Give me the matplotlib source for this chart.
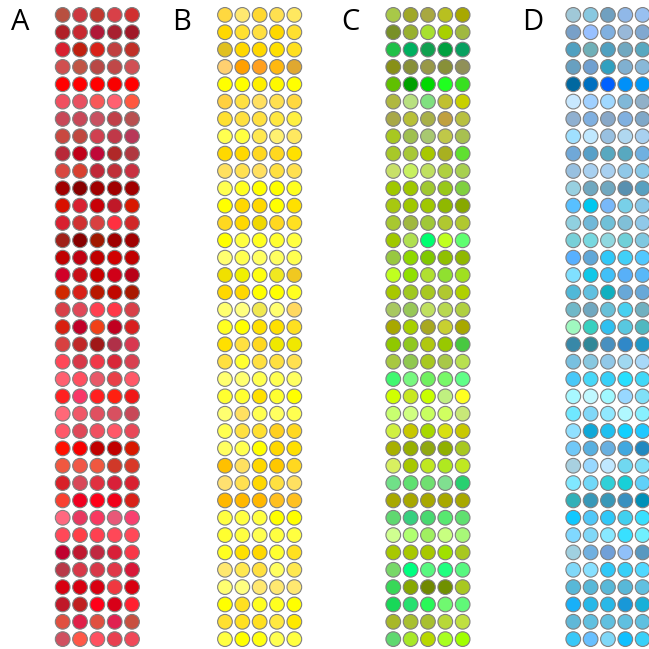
import matplotlib
matplotlib.use('Agg')
import matplotlib.pyplot as plt

# colour of every dot, one row per list entry (5 columns each)
panel_a = [
    "#b85040 #cc3840 #c03830 #d84048 #d03030", "#b02028 #c82830 #b01838 #a82030 #a01828",
    "#d82030 #c02010 #d82018 #c04040 #c03028", "#d05050 #c05545 #b84845 #c04848 #d05055",
    "#ff0000 #ff0000 #ff0000 #f80000 #ff0000", "#f05060 #e85060 #f85858 #ff6070 #ff5840",
    "#c84858 #c84858 #c85060 #c04048 #b85050", "#c84840 #c04840 #d04050 #c03848 #b83858",
    "#b82838 #c00018 #c00838 #b02828 #b03840", "#d84840 #d84030 #c02838 #c03038 #c83040",
    "#a00000 #880000 #a00000 #a00000 #a00000", "#d81000 #d82030 #c80008 #c01828 #d81800",
    "#d82030 #d03030 #d84040 #ff3040 #d02828", "#a02018 #880000 #a01800 #a00000 #a00000",
    "#c00000 #c00010 #c00000 #d00000 #c00000", "#d00028 #c81018 #c80000 #d00018 #b80018",
    "#d02800 #d82018 #b81800 #c00800 #a81800", "#d84048 #e04858 #ff4050 #ff3848 #d84048",
    "#d82010 #c00028 #f04018 #c00020 #d82020", "#d84040 #c02828 #a01818 #b03048 #d83850",
    "#ff4858 #d83848 #f03848 #d82838 #d84050", "#ff6070 #ff5060 #e85868 #e84048 #ff5868",
    "#ff2020 #f83868 #ff2020 #ff2010 #f01818", "#ff6878 #f05868 #e05060 #d85060 #c84858",
    "#ff5868 #e04858 #f05060 #ff5868 #e84858", "#ff1000 #f80000 #c00000 #c00000 #d81800",
    "#f05840 #f05848 #f05840 #d03828 #d83828", "#d82028 #d84858 #e03040 #d82038 #d82030",
    "#f84030 #f00020 #ff0018 #f00018 #d82018", "#ff6880 #e83860 #f83860 #e85878 #f84070",
    "#ff4858 #ff4048 #ff4050 #ff4858 #ff4858", "#c00030 #c01830 #c02840 #d82038 #f83848",
    "#b83848 #d83848 #d83848 #e03848 #d81838", "#d80010 #d80010 #d80010 #f03840 #d80010",
    "#c01828 #c02020 #ff0018 #d80018 #ff2030", "#e05040 #e02048 #e05040 #e02050 #c85040",
    "#d05060 #ff5848 #ff5060 #e84050 #f04858",
]
panel_b = [
    "#ffd840 #ffe870 #ffd830 #ffe050 #ffe860", "#ffd800 #ffe030 #ffe040 #ffd800 #ffe030",
    "#e0c020 #ffd800 #ffd800 #ffe000 #ffe020", "#ffd070 #ffa000 #ffa020 #ffb810 #e0a830",
    "#ffff00 #ffff00 #fff000 #fff800 #ffff00", "#ffd040 #ffe040 #ffe060 #ffe050 #ffd840",
    "#ffe030 #ffe040 #ffe040 #ffe840 #fff040", "#ffff50 #ffff40 #ffe850 #fff070 #ffe860",
    "#ffd800 #ffd800 #ffd820 #ffd820 #ffe000", "#ffe060 #ffe050 #ffe060 #ffe040 #ffe050",
    "#ffff50 #ffff20 #ffff00 #ffff00 #ffff20", "#ffff00 #ffd800 #ffd800 #ffff00 #ffe000",
    "#ffd820 #ffd800 #f0d800 #ffd820 #ffe020", "#ffff00 #ffff40 #ffff20 #ffff30 #ffff40",
    "#ffff70 #ffff50 #ffff60 #ffff60 #ffff50", "#f0e000 #f0f000 #ffff10 #f0e820 #f0c820",
    "#ffd800 #ffd800 #ffff00 #ffff00 #ffff20", "#ffff70 #ffff80 #f0e850 #ffff70 #ffd860",
    "#ffff20 #ffff00 #ffe000 #ffe000 #ffe020", "#ffe000 #ffe040 #ffd820 #f0e800 #f0e800",
    "#ffe040 #ffff30 #ffe040 #ffe040 #ffe050", "#ffff70 #ffff70 #ffff50 #ffff50 #ffff60",
    "#ffff30 #ffff30 #ffe000 #ffff30 #ffff00", "#ffff70 #ffe060 #ffff50 #ffff60 #ffff50",
    "#ffff50 #ffe040 #ffe030 #ffd020 #ffd820", "#ffff60 #ffff50 #ffff00 #ffd800 #ffe000",
    "#ffc000 #ffe060 #ffd800 #ffc800 #ffd820", "#ffe070 #ffe050 #ffd800 #ffe040 #ffe060",
    "#ffb800 #ffb800 #ffb800 #ffc020 #ffc020", "#ffff40 #ffff40 #ffff40 #ffff00 #ffff00",
    "#ffff30 #ffff40 #ffff50 #ffff40 #ffff40", "#ffff20 #ffe000 #ffd800 #ffff30 #ffe020",
    "#ffe870 #ffe850 #ffe040 #ffff60 #ffe850", "#ffff70 #ffff80 #ffe870 #ffe870 #ffe870",
    "#ffff00 #ffe020 #ffff20 #ffff20 #ffff00", "#ffe030 #ffe020 #ffe020 #ffe840 #ffe800",
    "#ffff40 #ffff00 #ffff10 #ffff50 #ffff40",
]
panel_c = [
    "#a8c848 #a0a828 #a8a840 #b8c020 #a8a800", "#789028 #98b030 #a8e030 #a8d000 #a0b840",
    "#20c048 #00b060 #10a050 #00a040 #08a060", "#889018 #889038 #989848 #889038 #909058",
    "#60c000 #00a000 #00d800 #20ff20 #38e020", "#b0b840 #b8e080 #80e080 #c0c030 #c8d000",
    "#a8a848 #b8c038 #a8b048 #c0a040 #b8c040", "#a8c820 #a0c050 #a8c870 #c0c848 #a8c050",
    "#a8c828 #a8c838 #a8c800 #a8b020 #60e030", "#c8e068 #c8f060 #c0e060 #b0d040 #a8d050",
    "#a0c800 #a0c800 #a0c830 #98c818 #80d040", "#a8c810 #a0c800 #a0c800 #90b800 #88a800",
    "#a8c830 #a0b840 #a0c838 #b0c830 #b0c830", "#a0c800 #b0e050 #00ff70 #c0ff20 #60ff70",
    "#98c840 #90d800 #80c800 #90c000 #90b800", "#c0ff20 #90e000 #b0e030 #90e030 #a0e020",
    "#a8c800 #a0c820 #a8c820 #b0c830 #b0d000", "#a8c860 #98c858 #c0e060 #b8d850 #b0d040",
    "#a8a800 #a8d000 #a8a820 #c8d030 #a8a800", "#90c800 #90c820 #b0c810 #98c800 #48c840",
    "#a8c840 #90c850 #a8c820 #a8c848 #b8e050", "#40f870 #78f880 #70f060 #78f868 #60ff88",
    "#d0ff00 #c8e820 #c8ff00 #c0f080 #ffff20", "#c8ff70 #d0ff80 #c8ff60 #d0ff60 #c8e878",
    "#d0f040 #c8c800 #a8d800 #d8e010 #c8c800", "#a8b000 #98b000 #90a810 #90b000 #a8c820",
    "#d8f060 #a8c800 #c0e820 #b0e820 #c0e820", "#70e088 #60e070 #70e070 #80e090 #28d070",
    "#a8a800 #a8a800 #a8a800 #a8a800 #a8a800", "#60d870 #38d080 #48d870 #58e870 #60e070",
    "#d0ff90 #b0ff70 #a0f060 #c8ff80 #a8f878", "#a8c800 #a8c800 #a8c800 #a0e000 #a8c820",
    "#78d868 #00ff80 #58f880 #20ff80 #58f880", "#38d858 #88a800 #708800 #709000 #a8c820",
    "#18d858 #28e070 #28f858 #70f870 #60f878", "#a8b828 #a8c030 #a8c030 #b8d838 #c0e040",
    "#60d870 #a8e828 #b8d800 #a8ff20 #a0ff00",
]
panel_d = [
    "#a0c8d8 #88c8e0 #70a0c0 #90b8e8 #98c0f0", "#78a0c8 #98c0ff #80b0e0 #98b8d8 #80a8d0",
    "#50a0c0 #70b0b8 #50a0c0 #70a8c0 #58a8c0", "#68a0c0 #70a0d0 #30a0c0 #80b0d0 #88b8d8",
    "#0068a0 #0070c0 #0060ff #0090f8 #0098f8", "#c8e8ff #a0d0ff #a0d8ff #80b8d8 #90b0c8",
    "#90b0d0 #80b0e0 #88a8c8 #80b0e0 #80a8c8", "#a0e0ff #c0e8ff #98c0e0 #b0d8f0 #a8d0f0",
    "#70a8d8 #58a0c8 #58a8c0 #58a8c0 #70b0e0", "#98c0e0 #a8d0f0 #a8d0f0 #90c8e8 #88c8e8",
    "#98d0e0 #70a8c0 #70a8c0 #5890b0 #58a0c0", "#58c0ff #00c8f0 #78b8f8 #78d0e8 #88c8e8",
    "#90d0e0 #70b8d8 #70c0d8 #80c0d8 #90c8e8", "#78d0d8 #78d8e0 #90d8e0 #70d0d8 #80c8e0",
    "#58b0ff #60a8d8 #30c8f8 #40d0f8 #50c8ff", "#80e0ff #10c8e8 #40c0f8 #58b0f8 #58b8f8",
    "#50b8d8 #60c0e0 #10b0c0 #68a8d8 #68a8d8", "#70b8c8 #70a8c0 #68c0d8 #48d0f0 #70b0c0",
    "#a0f8c0 #38d0c0 #30c0f0 #58c8e0 #50b8c0", "#3888a8 #308898 #4890c0 #3088c8 #2098c8",
    "#78c0e0 #88c8e0 #90c8e8 #a0d8f0 #a8d8f8", "#48c8f8 #48d8f8 #38d0f8 #28e0ff #40d8f8",
    "#a8f8ff #c0f8ff #a0f8ff #98d8ff #80e0f8", "#70e8ff #80d8f8 #90e8ff #b0f8ff #88f0ff",
    "#90e0ff #10a8d8 #20c0f0 #10d0ff #20c8ff", "#70c8f8 #58b0e0 #68b0e0 #40a8e0 #2088c0",
    "#a8d0e0 #98d8ff #c0e8ff #70d8f0 #80e0f8", "#80e8ff #70d8f8 #30d0d8 #18d0d8 #60d0f8",
    "#30b0b8 #3898b8 #3898b8 #3890c0 #0090b8", "#10c8ff #50c8f8 #30c8f8 #40d0f0 #38e0ff",
    "#80d8ff #80d8f8 #88e8ff #38e0ff #70f0ff", "#a0d0e0 #70b0e0 #70a0d8 #90c0f8 #5898c0",
    "#80d8f8 #88e0ff #30c8f8 #38d0f8 #50d8ff", "#58b8d8 #58b8d8 #58b8d8 #58b8d8 #60c0e0",
    "#18b0f8 #28b8e8 #28b8e8 #1898d8 #18b0d8", "#60b8d8 #60c0e0 #60c0e0 #60c0e0 #60c0e0",
    "#38c8f8 #68c0ff #80d8f8 #10c0ff #38d0f8",
]

labels = ['A', 'B', 'C', 'D']
panels = [panel_a, panel_b, panel_c, panel_d]

W = H = 649
fig = plt.figure(figsize=(6.49, 6.49), dpi=100)

# left edge of each panel and of each letter, in pixels
panel_left = [54.0, 216.3, 384.6, 564.6]
label_left = [11, 172, 341, 522]
cell = 17.34

for lab, rows, px, lx in zip(labels, panels, panel_left, label_left):
    nrows = len(rows)
    ax = fig.add_axes([px / W, 1.2 / H, 5 * cell / W, nrows * cell / H])
    xs, ys, cs = [], [], []
    for r, line in enumerate(rows):
        for c, col in enumerate(line.split()):
            xs.append(c)
            ys.append(r)
            cs.append(col)
    ax.scatter(xs, ys, s=112, c=cs, edgecolors='#808080', linewidths=0.8, clip_on=False)
    ax.set_xlim(-0.5, 4.5)
    ax.set_ylim(nrows - 0.5, -0.5)
    ax.axis('off')
    fig.text(lx / W, 1 - 8 / H, lab, fontsize=21, family='Open Sans', ha='left', va='top')

fig.savefig('out.png', dpi=100)
